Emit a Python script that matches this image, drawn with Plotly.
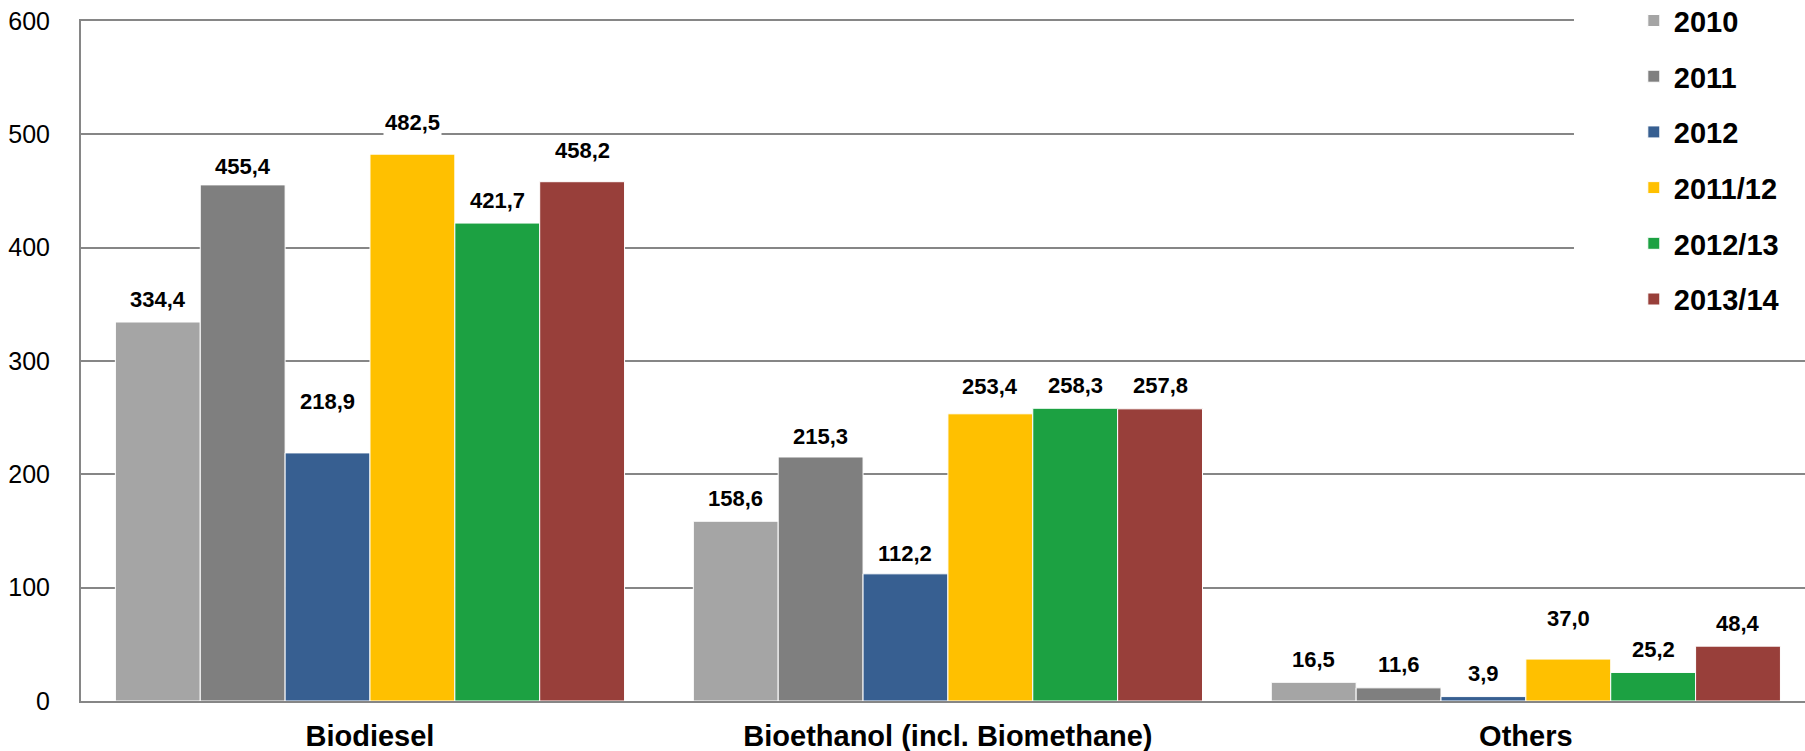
import plotly.graph_objects as go

# Categories and yearly values
categories = ["Biodiesel", "Bioethanol (incl. Biomethane)", "Others"]
series_names = ["2010", "2011", "2012", "2011/12", "2012/13", "2013/14"]
values_2010 = [334.4, 158.6, 16.5]
values_2011 = [455.4, 215.3, 11.6]
values_2012 = [218.9, 112.2, 3.9]
values_2011_12 = [482.5, 253.4, 37.0]
values_2012_13 = [421.7, 258.3, 25.2]
values_2013_14 = [458.2, 257.8, 48.4]
y_ticks = [0, 100, 200, 300, 400, 500, 600]

series_values = [values_2010, values_2011, values_2012,
                 values_2011_12, values_2012_13, values_2013_14]
colors = ["#A5A5A5", "#7F7F7F", "#375F91", "#FFC000", "#1CA142", "#983F3A"]

FONT = "Arial, 'Liberation Sans', sans-serif"
BARGAP = 0.119

# per-label vertical nudges (px) relative to the standard offset
label_lift = {(3, 0): 9, (5, 0): 8, (2, 0): 28, (3, 2): 18,
              (1, 0): -5, (3, 1): 4, (2, 1): -3, (1, 1): -3}

fig = go.Figure()
for i, (name, vals) in enumerate(zip(series_names, series_values)):
    fig.add_trace(go.Bar(
        name=name, x=categories, y=vals,
        marker=dict(color=colors[i], line=dict(color="white", width=1)),
        legendgroup=name,
    ))

# value labels centred over each bar of the group
n = len(series_names)
bar_w = (1 - BARGAP) / n
for i, vals in enumerate(series_values):
    off = -(1 - BARGAP) / 2 + bar_w * (i + 0.5)
    for c, v in enumerate(vals):
        fig.add_annotation(
            x=c + off, y=v, xref="x", yref="y",
            text=f"{v:.1f}".replace(".", ","),
            showarrow=False, yanchor="middle",
            yshift=23 + label_lift.get((i, c), 0),
            bgcolor="white",
            font=dict(family=FONT, size=22, color="black", weight="bold"),
        )

# white backing behind the legend block
fig.add_shape(type="rect", xref="paper", yref="paper",
              x0=0.866, x1=1.0, y0=0.555, y1=1.03,
              fillcolor="white", line=dict(width=0), layer="above")

fig.update_layout(
    width=1805, height=751,
    margin=dict(l=81, r=0, t=21, b=50, autoexpand=False),
    paper_bgcolor="white", plot_bgcolor="white",
    barmode="group", bargap=BARGAP, bargroupgap=0,
    font=dict(family=FONT, color="black"),
    showlegend=True,
    legend=dict(
        x=0.9007, xanchor="left", y=1.038, yanchor="top",
        bgcolor="white", tracegroupgap=15,
        font=dict(family=FONT, size=29, color="black", weight="bold"),
    ),
    xaxis=dict(
        type="category", range=[-0.5, 2.483],
        showline=True, linecolor="#868686", linewidth=2, mirror=True,
        showgrid=False, ticks="", ticklabelstandoff=8,
        tickfont=dict(family=FONT, size=29, color="black", weight="bold"),
    ),
    yaxis=dict(
        range=[0, 600], tickvals=y_ticks,
        showline=True, linecolor="#868686", linewidth=2,
        showgrid=True, gridcolor="#868686", gridwidth=2,
        zeroline=False, ticks="", ticklabelstandoff=24,
        tickfont=dict(family=FONT, size=25, color="black"),
    ),
)

fig.write_html("out.html")
